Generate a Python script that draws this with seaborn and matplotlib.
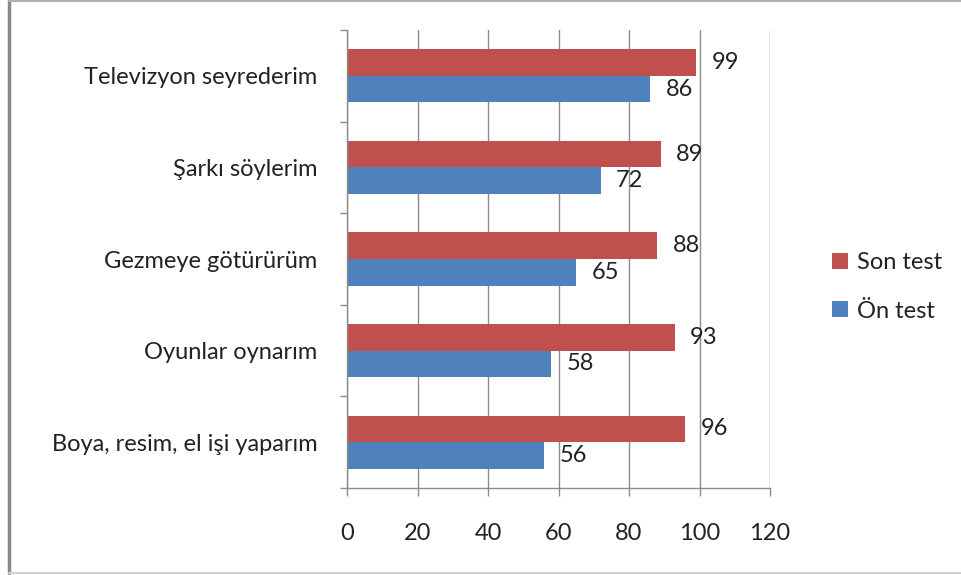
import matplotlib
matplotlib.use("Agg")
import matplotlib.pyplot as plt
import seaborn as sns
import pandas as pd
from matplotlib.patches import Patch
from matplotlib.lines import Line2D

categories = ["Televizyon seyrederim", "Şarkı söylerim", "Gezmeye götürürüm",
              "Oyunlar oynarım", "Boya, resim, el işi yaparım"]
son_test = [99, 89, 88, 93, 96]
on_test = [86, 72, 65, 58, 56]
series_names = ["Son test", "Ön test"]
colors = ["#C0504D", "#4F81BD"]
x_ticks = [0, 20, 40, 60, 80, 100, 120]

df = pd.DataFrame({
    "category": categories * 2,
    "value": son_test + on_test,
    "series": [series_names[0]] * len(categories) + [series_names[1]] * len(categories),
})

sns.set_theme(style="white")
plt.rcParams["font.family"] = ["Lato", "DejaVu Sans"]
FS = 17

fig = plt.figure(figsize=(9.61, 5.75), dpi=100)
ax = fig.add_axes([347 / 961, 1 - 488 / 575, (770 - 347) / 961, (488 - 30) / 575])

sns.barplot(data=df, y="category", x="value", hue="series", hue_order=series_names,
            order=categories, palette=colors, orient="h", width=0.58,
            saturation=1, ax=ax, legend=False, linewidth=0)

ax.set_xlim(0, 120)
ax.set_ylim(4.5, -0.5)
ax.set_xticks(x_ticks)
ax.set_xticklabels([str(t) for t in x_ticks], fontsize=FS, color="#222222")
ax.set_yticks(range(len(categories)))
ax.set_yticklabels(categories, fontsize=FS, color="#222222")
ax.set_yticks([i - 0.5 for i in range(len(categories) + 1)], minor=True)
ax.tick_params(axis="y", which="major", length=0, pad=21.5)
ax.tick_params(axis="y", which="minor", length=5, width=1, color="#8c8c8c", direction="out", left=True)
ax.tick_params(axis="x", which="major", length=6, width=1, color="#8c8c8c", direction="out", pad=19, bottom=True)
ax.set_xlabel("")
ax.set_ylabel("")

ax.grid(axis="x", color="#8c8c8c", linewidth=1)
ax.set_axisbelow(True)
for s in ["top", "right"]:
    ax.spines[s].set_visible(False)
for s in ["left", "bottom"]:
    ax.spines[s].set_color("#8c8c8c")
    ax.spines[s].set_linewidth(1)

for cont in ax.containers:
    ax.bar_label(cont, fontsize=FS, color="#222222", padding=11)

handles = [Patch(facecolor=c, edgecolor="none") for c in colors]
fig.legend(handles, series_names, loc="center left", bbox_to_anchor=(811 / 961, 1 - 287 / 575),
           frameon=False, fontsize=FS, handlelength=0.65, handleheight=0.65,
           handletextpad=0.4, labelspacing=1.15, labelcolor="#222222")

fig.add_artist(Line2D([9 / 961, 9 / 961], [0.004, 0.998], transform=fig.transFigure,
                      color="#8a8a8a", linewidth=2.5))
fig.add_artist(Line2D([9 / 961, 1.0], [0.998, 0.998], transform=fig.transFigure,
                      color="#b0b0b0", linewidth=1.5))
fig.add_artist(Line2D([9 / 961, 1.0], [0.004, 0.004], transform=fig.transFigure,
                      color="#cfcfcf", linewidth=1.5))

fig.savefig("out.png", dpi=100)
